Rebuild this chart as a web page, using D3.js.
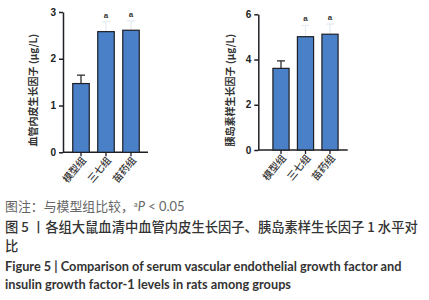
<!DOCTYPE html>
<html>
<head>
<meta charset="utf-8">
<script src="https://cdn.jsdelivr.net/npm/d3@7"></script>
<style>
  body { margin: 0; background: #fff; }
  svg { display: block; }
</style>
</head>
<body>
<svg id="chart" width="429" height="300"></svg>
<script>
const groups = ["模型组", "三七组", "苗药组"];
const vegfMean = [1.47, 2.58, 2.61];
const vegfErr = [0.18, 0.21, 0.2];
const igfMean = [3.61, 5.01, 5.12];
const igfErr = [0.33, 0.5, 0.45];
const sigMarks = ["", "a", "a"];
const vegfTicks = [0, 1, 2, 3];
const igfTicks = [0, 2, 4, 6];

const barFill = "#4a80c8";
const ink = "#1e1e24";

const svg = d3.select("#chart");

function panel(opt){
    const {means, errs, ticks, yMax, axisX, axisEnd, yTop, yBottom, bandRange, title, titleX} = opt;
    const g = svg.append("g");

    const x = d3.scaleBand(groups, bandRange).paddingInner(0.34).paddingOuter(0.17);
    const y = d3.scaleLinear([0, yMax], [yBottom, yTop]);

    // y axis
    g.append("g")
        .attr("transform", `translate(${axisX},0)`)
        .call(d3.axisLeft(y).tickValues(ticks).tickFormat(d3.format("d"))
            .tickSize(4).tickSizeOuter(0).tickPadding(3))
        .call(a => a.selectAll("path, line").attr("stroke", ink).attr("stroke-width", 1.5))
        .call(a => a.selectAll("text")
            .attr("font-family", "Liberation Sans, Arial, sans-serif")
            .attr("font-weight", "bold")
            .attr("font-size", 10)
            .attr("fill", "#222"));

    // x axis
    g.append("g")
        .attr("transform", `translate(0,${yBottom})`)
        .call(d3.axisBottom(x).tickSize(4).tickSizeOuter(0).tickFormat(""))
        .call(a => a.select(".domain").remove())
        .call(a => a.selectAll("line").attr("stroke", ink).attr("stroke-width", 1.3));

    g.append("line")
        .attr("x1", axisX).attr("x2", axisEnd)
        .attr("y1", yBottom).attr("y2", yBottom)
        .attr("stroke", ink).attr("stroke-width", 1.5);

    // error bars (drawn before bars)
    g.selectAll(".err")
        .data(groups)
        .join("g")
        .attr("class", "err")
        .each(function(d, i){
            const cx = x(d) + x.bandwidth() / 2;
            const faint = i > 0;
            const col = faint ? "#e4ebf4" : ink;
            const sel = d3.select(this);
            sel.append("line")
                .attr("x1", cx).attr("x2", cx)
                .attr("y1", y(means[i])).attr("y2", y(means[i] + errs[i]))
                .attr("stroke", col).attr("stroke-width", 1.2);
            sel.append("line")
                .attr("x1", cx - 4).attr("x2", cx + 4)
                .attr("y1", y(means[i] + errs[i])).attr("y2", y(means[i] + errs[i]))
                .attr("stroke", col).attr("stroke-width", 1.2);
        });

    g.selectAll(".bar")
        .data(groups)
        .join("rect")
        .attr("class", "bar")
        .attr("x", d => x(d))
        .attr("width", x.bandwidth())
        .attr("y", (d, i) => y(means[i]))
        .attr("height", (d, i) => yBottom - y(means[i]))
        .attr("fill", barFill)
        .attr("stroke", ink)
        .attr("stroke-width", 1.2);

    // significance letters
    g.selectAll(".sig")
        .data(groups)
        .join("text")
        .attr("class", "sig")
        .attr("x", d => x(d) + x.bandwidth() / 2)
        .attr("y", (d, i) => y(means[i] + errs[i]) - 4)
        .attr("text-anchor", "middle")
        .attr("font-family", "Liberation Sans, Arial, sans-serif")
        .attr("font-weight", "bold")
        .attr("font-size", 8)
        .attr("fill", "#333")
        .text((d, i) => sigMarks[i]);

    // x labels
    g.selectAll(".xl")
        .data(groups)
        .join("text")
        .attr("class", "xl")
        .attr("transform", d => `translate(${x(d) + x.bandwidth() / 2 + 3},${yBottom + 6}) rotate(-50)`)
        .attr("text-anchor", "end")
        .attr("dy", "0.35em")
        .attr("font-family", "Noto Sans CJK SC, sans-serif")
        .attr("font-weight", 500)
        .attr("font-size", 10)
        .attr("fill", "#333")
        .text(d => d);

    // y title
    g.append("text")
        .attr("transform", `translate(${titleX},${(yTop + yBottom) / 2 + 8}) rotate(-90)`)
        .attr("text-anchor", "middle")
        .attr("dy", "0.35em")
        .attr("font-family", "Noto Sans CJK SC, sans-serif")
        .attr("font-weight", "bold")
        .attr("font-size", 10)
        .attr("fill", "#333")
        .text(title);
}

panel({means: vegfMean, errs: vegfErr, ticks: vegfTicks, yMax: 3,
       axisX: 63, axisEnd: 148, yTop: 12, yBottom: 152.3,
       bandRange: [68.5, 143.5], title: "血管内皮生长因子 (μg/L)", titleX: 33});

panel({means: igfMean, errs: igfErr, ticks: igfTicks, yMax: 6,
       axisX: 258.3, axisEnd: 347.7, yTop: 14.3, yBottom: 150,
       bandRange: [268.75, 342.25], title: "胰岛素样生长因子 (μg/L)", titleX: 230});

// caption
function fit(sel, w){
    const len = sel.node().getComputedTextLength();
    const fs = parseFloat(sel.attr("font-size"));
    sel.attr("font-size", fs * w / len);
}

const note = svg.append("text")
    .attr("x", 5).attr("y", 211)
    .attr("font-family", "Noto Sans CJK SC, sans-serif")
    .attr("font-size", 12)
    .attr("fill", "#666");
note.append("tspan").text("图注：与模型组比较，");
note.append("tspan").attr("font-size", 7).attr("dy", -4).text("a");
note.append("tspan").attr("dy", 4).attr("font-style", "italic").attr("font-family", "Lato, sans-serif").text("P");
note.append("tspan").attr("font-family", "Lato, sans-serif").text(" < 0.05");
fit(note, 180);

const cap1 = svg.append("text")
    .attr("x", 5).attr("y", 232)
    .attr("font-family", "Noto Sans CJK SC, sans-serif")
    .attr("font-weight", 500)
    .attr("font-size", 13)
    .attr("fill", "#333")
    .text("图 5 丨各组大鼠血清中血管内皮生长因子、胰岛素样生长因子 1 水平对");
fit(cap1, 413);

svg.append("text")
    .attr("x", 5).attr("y", 251)
    .attr("font-family", "Noto Sans CJK SC, sans-serif")
    .attr("font-weight", 500)
    .attr("font-size", cap1.attr("font-size"))
    .attr("fill", "#333")
    .text("比");

const en1 = svg.append("text")
    .attr("x", 5).attr("y", 271)
    .attr("font-family", "Lato, sans-serif")
    .attr("font-weight", "bold")
    .attr("font-size", 12)
    .attr("fill", "#333")
    .text("Figure 5  |  Comparison of serum vascular endothelial growth factor and");
fit(en1, 397);

svg.append("text")
    .attr("x", 5).attr("y", 289)
    .attr("font-family", "Lato, sans-serif")
    .attr("font-weight", "bold")
    .attr("font-size", en1.attr("font-size"))
    .attr("fill", "#333")
    .text("insulin growth factor-1 levels in rats among groups");
</script>
</body>
</html>
